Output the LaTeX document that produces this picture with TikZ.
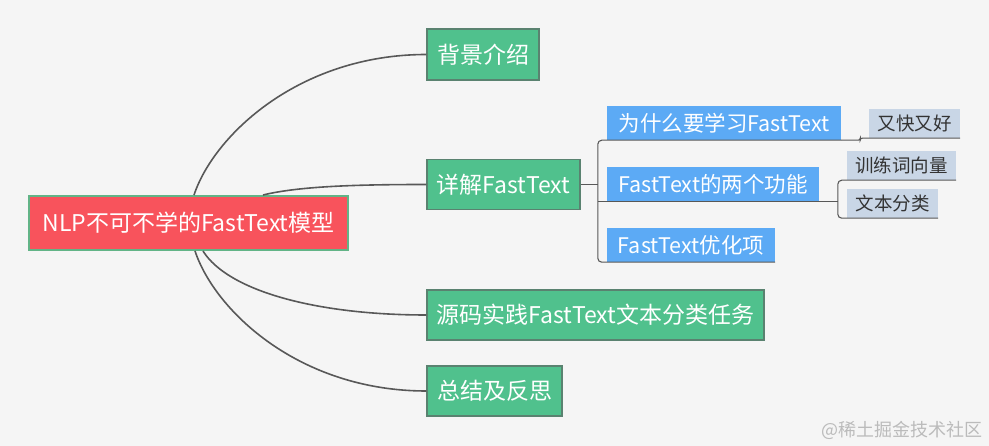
\documentclass[tikz,border=0pt]{standalone}
\usepackage{fontspec}
\setmainfont{Noto Sans CJK SC}
\usetikzlibrary{backgrounds}
\definecolor{bgc}{HTML}{F5F5F5}
\definecolor{rootred}{HTML}{F8535C}
\definecolor{rootborder}{HTML}{62B487}
\definecolor{topicgreen}{HTML}{50C18D}
\definecolor{topicborder}{HTML}{5A8270}
\definecolor{subblue}{HTML}{5CAAF5}
\definecolor{leafgrey}{HTML}{C9D6E6}
\definecolor{linec}{HTML}{585858}
\definecolor{leaftext}{HTML}{333333}
\definecolor{wmark}{HTML}{BBBBBB}
\begin{document}
\begin{tikzpicture}[x=1pt,y=-1pt,
  rootbox/.style={fill=rootred,draw=rootborder,line width=2pt,text=white,inner sep=0pt,font=\fontsize{23}{26}\selectfont},
  topicbox/.style={fill=topicgreen,draw=topicborder,line width=1.2pt,text=white,inner sep=0pt,font=\fontsize{23}{26}\selectfont},
  subbox/.style={fill=subblue,text=white,inner sep=0pt,font=\fontsize{21.5}{24}\selectfont},
  leafbox/.style={fill=leafgrey,text=leaftext,inner sep=0pt,font=\fontsize{18.5}{22}\selectfont},
  curveline/.style={draw=linec,line width=1.6pt},
  subline/.style={draw=linec,line width=1.1pt,rounded corners=4pt},
]
\useasboundingbox (0,0) rectangle (989,446);
\fill[bgc] (0,0) rectangle (989,446);

% nodes
\node[rootbox,minimum width=319pt,minimum height=54pt] (root) at (188.5,223) {NLP不可不学的FastText模型};
\node[topicbox,minimum width=112pt,minimum height=51pt] (bg) at (483,54.5) {背景介绍};
\node[topicbox,minimum width=153pt,minimum height=50pt] (xj) at (503.5,184.5) {详解FastText};
\node[topicbox,minimum width=337pt,minimum height=50pt] (ym) at (595.5,315) {源码实践FastText文本分类任务};
\node[topicbox,minimum width=135pt,minimum height=50pt] (zj) at (494.5,391) {总结及反思};

\node[subbox,minimum width=234pt,minimum height=34pt] (b1) at (724,123) {为什么要学习FastText};
\node[subbox,minimum width=212pt,minimum height=34pt] (b2) at (713,184) {FastText的两个功能};
\node[subbox,minimum width=168pt,minimum height=34pt] (b3) at (691,245) {FastText优化项};

\node[leafbox,minimum width=91pt,minimum height=29pt] (g1) at (914.5,123.5) {又快又好};
\node[leafbox,minimum width=109pt,minimum height=29pt] (g2) at (901.5,165.5) {训练词向量};
\node[leafbox,minimum width=91pt,minimum height=29pt] (g3) at (892.5,203.5) {文本分类};

\node[text=wmark,anchor=east,inner sep=0pt,font=\fontsize{18}{20}\selectfont] (wm) at (983,430) {@稀土掘金技术社区};

% curves from root
\draw[curveline] ([xshift=5.5pt]root.north) .. controls +(20,-60) and +(-127,0) .. (bg.west);
\draw[curveline] ([xshift=74.5pt]root.north) .. controls +(37,-9) and +(-67,0) .. (xj.west);
\draw[curveline] ([xshift=14.5pt]root.south) .. controls +(25,40) and +(-110,0) .. (ym.west);
\draw[curveline] ([xshift=6.5pt]root.south) .. controls +(20,60) and +(-127,0) .. (zj.west);

% sub-branches of xj
\coordinate (brx) at ([xshift=-9pt]b1.south west);
\draw[subline] (xj.east) -- (brx |- xj.east);
\draw[subline] (b1.south east) -- (brx) |- (b3.south east);
\draw[subline] (brx |- b2.south) -- (b2.south east);
% b1 -> g1
\draw[subline,rounded corners=2pt] (b1.south east) -- ++(19,0) |- (g1.south east);
% b2 -> g2, g3
\coordinate (bry) at ([xshift=-9pt]g2.south west);
\draw[subline] (b2.south east) -- (bry |- b2.south);
\draw[subline] (g2.south east) -- (bry) |- (g3.south east);
\end{tikzpicture}
\end{document}
